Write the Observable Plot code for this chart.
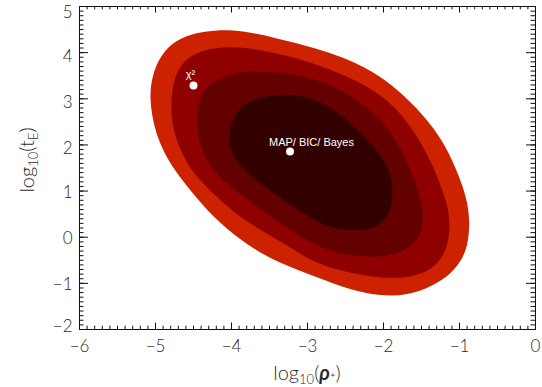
<!DOCTYPE html>
<html>
<head>
<meta charset="utf-8">
<script src="https://cdn.jsdelivr.net/npm/d3@7"></script>
<script src="https://cdn.jsdelivr.net/npm/@observablehq/plot@0.6"></script>
<style>
  html, body { margin: 0; padding: 0; background: #fff; }
  #chart svg { display: block; }
  #chart svg [aria-label^="x-axis"] text,
  #chart svg [aria-label^="y-axis"] text { font-weight: 300; }
</style>
</head>
<body>
<div id="chart"></div>
<script>
// Posterior confidence regions in the (log10 rho*, log10 tE) plane, outermost first.
const region4 = [
  [-5.09, 3.03], [-5.03, 3.61], [-4.89, 4.05], [-4.67, 4.33], [-4.37, 4.46], [-4.05, 4.50],
  [-3.75, 4.44], [-3.45, 4.33], [-3.03, 4.16], [-2.59, 3.94], [-2.14, 3.61], [-1.80, 3.18],
  [-1.49, 2.68], [-1.22, 2.10], [-1.05, 1.51], [-0.91, 0.90], [-0.86, 0.36], [-0.89, -0.22],
  [-1.01, -0.61], [-1.22, -0.94], [-1.54, -1.20], [-1.88, -1.29], [-2.24, -1.22], [-2.59, -1.05],
  [-2.96, -0.81], [-3.45, -0.51], [-3.88, -0.07], [-4.24, 0.43], [-4.54, 1.01], [-4.80, 1.55],
  [-5.00, 2.20]
];
const region3 = [
  [-4.80, 2.90], [-4.76, 3.46], [-4.63, 3.83], [-4.41, 4.05], [-4.11, 4.13], [-3.79, 4.11],
  [-3.45, 4.00], [-3.03, 3.83], [-2.59, 3.57], [-2.14, 3.22], [-1.80, 2.75], [-1.58, 2.25],
  [-1.36, 1.60], [-1.25, 1.12], [-1.15, 0.69], [-1.12, 0.15], [-1.18, -0.35], [-1.36, -0.72],
  [-1.71, -0.90], [-2.14, -0.87], [-2.59, -0.72], [-2.96, -0.51], [-3.22, -0.22], [-3.62, 0.15],
  [-4.01, 0.58], [-4.32, 1.08], [-4.54, 1.45], [-4.70, 1.99], [-4.78, 2.42]
];
const region2 = [
  [-4.47, 2.53], [-4.43, 3.03], [-4.28, 3.35], [-4.01, 3.55], [-3.71, 3.61], [-3.36, 3.57],
  [-3.03, 3.50], [-2.59, 3.24], [-2.24, 2.85], [-1.93, 2.38], [-1.71, 1.73], [-1.59, 1.23],
  [-1.49, 0.73], [-1.47, 0.21], [-1.58, -0.14], [-1.84, -0.40], [-2.24, -0.44], [-2.67, -0.33],
  [-2.96, -0.12], [-3.36, 0.30], [-3.71, 0.73], [-4.01, 1.08], [-4.25, 1.45], [-4.41, 1.92]
];
const region1 = [
  [-4.05, 2.16], [-3.99, 2.59], [-3.84, 2.90], [-3.58, 3.05], [-3.32, 3.09], [-3.03, 3.07],
  [-2.67, 2.81], [-2.37, 2.38], [-2.07, 1.88], [-1.88, 1.34], [-1.88, 0.86], [-1.91, 0.51],
  [-2.07, 0.21], [-2.37, 0.12], [-2.72, 0.21], [-2.96, 0.41], [-3.32, 0.80], [-3.62, 1.16],
  [-3.84, 1.45], [-3.99, 1.77]
];
const regionColors = ["#cc2200", "#8f0000", "#630000", "#330000"];

// Point estimates
const estimateNames = ["χ²", "MAP/ BIC/ Bayes"];
const estimateRho = [-4.50, -3.23];
const estimateTE = [3.29, 1.86];

// Axis ticks
const xTicks = [-6, -5, -4, -3, -2, -1, 0];
const yTicks = [-2, -1, 0, 1, 2, 3, 4, 5];

const W = 542, H = 387;
const mL = 79, mR = 7, mT = 6, mB = 58;
const innerW = W - mL - mR, innerH = H - mT - mB;
const ink = "#111";
const textInk = "#2a2a2a";
const font = "Lato, 'Liberation Sans', Arial, sans-serif";

const xMinor = d3.range(-60, 1).map(i => i / 10);
const yMinor = d3.range(-20, 51).map(i => i / 10);

const regions = [region4, region3, region2, region1];
const estimates = estimateNames.map((name, i) => ({name, x: estimateRho[i], y: estimateTE[i]}));

const tickLen = {xMajor: 6.5, xMinor: 3.3, yMajor: 9, yMinor: 4.5};

// y labels sit slightly inside the frame near its top and bottom edges
const yLabelGroups = [
  {ticks: yTicks.filter(v => v === 5), dy: 6},
  {ticks: yTicks.filter(v => v >= 2 && v <= 4), dy: 4},
  {ticks: yTicks.filter(v => v >= -1 && v <= 1), dy: 1.5},
  {ticks: yTicks.filter(v => v === -2), dy: -3}
];

const plot = Plot.plot({
  width: W,
  height: H,
  marginLeft: mL,
  marginRight: mR,
  marginTop: mT,
  marginBottom: mB,
  style: {fontFamily: font, background: "#fff", color: ink},
  x: {domain: [-6, 0]},
  y: {domain: [-2, 5]},
  marks: [
    ...regions.map((r, i) => Plot.line(r, {
      x: d => d[0], y: d => d[1],
      curve: "basis-closed",
      fill: regionColors[i], stroke: "none"
    })),
    Plot.dot(estimates, {x: "x", y: "y", r: 4, fill: "white", stroke: "none"}),
    Plot.text(estimates.slice(0, 1), {
      x: "x", y: "y", text: "name", fill: "white", fontSize: 11,
      fontFamily: "'Liberation Sans', Arial, sans-serif",
      dx: -3, dy: -11, textAnchor: "middle"
    }),
    Plot.text(estimates.slice(1), {
      x: "x", y: "y", text: "name", fill: "white", fontSize: 11,
      fontFamily: "'Liberation Sans', Arial, sans-serif",
      dx: -21, dy: -9, textAnchor: "start"
    }),
    // inward ticks on all four sides
    Plot.ruleX(xMinor, {insetTop: innerH - tickLen.xMinor, stroke: ink}),
    Plot.ruleX(xMinor, {insetBottom: innerH - tickLen.xMinor, stroke: ink}),
    Plot.ruleX(xTicks, {insetTop: innerH - tickLen.xMajor, stroke: ink}),
    Plot.ruleX(xTicks, {insetBottom: innerH - tickLen.xMajor, stroke: ink}),
    Plot.ruleY(yMinor, {insetRight: innerW - tickLen.yMinor, stroke: ink}),
    Plot.ruleY(yMinor, {insetLeft: innerW - tickLen.yMinor, stroke: ink}),
    Plot.ruleY(yTicks, {insetRight: innerW - tickLen.yMajor, stroke: ink}),
    Plot.ruleY(yTicks, {insetLeft: innerW - tickLen.yMajor, stroke: ink}),
    Plot.axisX(xTicks, {tickSize: 0, tickPadding: 10, fontSize: 17, label: null, fill: textInk}),
    ...yLabelGroups.map(g => Plot.axisY(g.ticks, {
      tickSize: 0, tickPadding: 7, fontSize: 17, label: null, fill: textInk, dy: g.dy
    })),
    Plot.frame({stroke: ink, strokeWidth: 1})
  ]
});

document.getElementById("chart").appendChild(plot);

// Axis titles with sub-scripted parts
const svg = d3.select(plot);
const xTitle = svg.append("text")
  .attr("x", mL + innerW / 2).attr("y", 380)
  .attr("text-anchor", "middle")
  .attr("font-family", font).attr("font-weight", 300)
  .attr("font-size", 20).attr("fill", textInk);
xTitle.append("tspan").text("log");
xTitle.append("tspan").attr("font-size", 13).attr("dy", 4).text("10");
xTitle.append("tspan").attr("dy", -4).text("(");
xTitle.append("tspan").attr("font-style", "italic").attr("font-weight", "bold").text("ρ");
xTitle.append("tspan").attr("font-size", 13).attr("dy", 3).text("*");
xTitle.append("tspan").attr("dy", -3).text(")");

const yTitle = svg.append("text")
  .attr("transform", `translate(34,${160}) rotate(-90)`)
  .attr("text-anchor", "middle")
  .attr("font-family", font).attr("font-weight", 300)
  .attr("font-size", 20).attr("fill", textInk);
yTitle.append("tspan").text("log");
yTitle.append("tspan").attr("font-size", 13).attr("dy", 4).text("10");
yTitle.append("tspan").attr("dy", -4).text("(t");
yTitle.append("tspan").attr("font-size", 13).attr("dy", 4).text("E");
yTitle.append("tspan").attr("dy", -4).text(")");
</script>
</body>
</html>
